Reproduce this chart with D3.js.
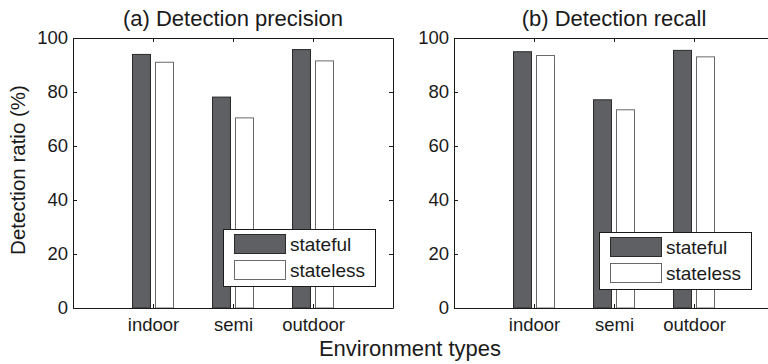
<!DOCTYPE html>
<html>
<head>
<meta charset="utf-8">
<script src="https://cdn.jsdelivr.net/npm/d3@7"></script>
<style>
  body { margin: 0; background: #fff; }
  svg { display: block; font-family: "Liberation Sans", Arial, sans-serif; }
</style>
</head>
<body>
<div id="chart"></div>
<script>
// Data
const categories = ['indoor', 'semi', 'outdoor'];
const series = ['stateful', 'stateless'];
const precisionStateful = [94.1, 78.3, 95.9];
const precisionStateless = [91.2, 70.6, 91.7];
const recallStateful = [95.1, 77.3, 95.6];
const recallStateless = [93.7, 73.6, 93.2];
const yTicks = [0, 20, 40, 60, 80, 100];

const panels = [
    {title: '(a) Detection precision', left: 73, legend: [223, 229],
     values: [precisionStateful, precisionStateless]},
    {title: '(b) Detection recall', left: 454, legend: [599, 232],
     values: [recallStateful, recallStateless]}
];

const colors = {stateful: '#5f6064', stateless: '#ffffff'};
const strokes = {stateful: '#2a2a2a', stateless: '#6a6a6a'};

const W = 768, H = 364;
const yTop = 38, yBottom = 308, plotW = 320;

const svg = d3.select('#chart').append('svg')
    .attr('width', W)
    .attr('height', H);

const y = d3.scaleLinear().domain([0, 100]).range([yBottom, yTop]);
const x = d3.scaleLinear().domain([0, 4]).range([0, plotW]);
// bars within a group
const inner = d3.scaleBand().domain(series).range([-21, 21]).paddingInner(4 / 23);

panels.forEach(p => {
    const g = svg.append('g').attr('transform', `translate(${p.left},0)`);

    // bars
    series.forEach((s, si) => {
        g.selectAll(`.bar-${s}`)
            .data(p.values[si])
            .enter()
            .append('rect')
            .attr('x', (d, i) => x(i + 1) + inner(s) + 0.5)
            .attr('y', d => y(d) + 0.5)
            .attr('width', inner.bandwidth() - 1)
            .attr('height', d => yBottom - y(d) - 0.5)
            .attr('fill', colors[s])
            .attr('stroke', strokes[s])
            .attr('stroke-width', 1);
    });

    // axes (ticks inward, box on)
    const yAxisL = d3.axisLeft(y).tickValues(yTicks).tickSizeInner(-4).tickSizeOuter(0).tickPadding(5);
    const yAxisR = d3.axisRight(y).tickValues(yTicks).tickSizeInner(-4).tickSizeOuter(0).tickFormat('');
    const xAxisB = d3.axisBottom(x).tickValues([1, 2, 3]).tickSizeInner(-4).tickSizeOuter(0)
        .tickPadding(10).tickFormat(d => categories[d - 1]);
    const xAxisT = d3.axisTop(x).tickValues([1, 2, 3]).tickSizeInner(-4).tickSizeOuter(0).tickFormat('');

    g.append('g').attr('class', 'axis').call(yAxisL);
    g.append('g').attr('class', 'axis').attr('transform', `translate(${plotW},0)`).call(yAxisR);
    g.append('g').attr('class', 'axis').attr('transform', `translate(0,${yBottom})`).call(xAxisB);
    g.append('g').attr('class', 'axis').attr('transform', `translate(0,${yTop})`).call(xAxisT);

    g.selectAll('.axis path, .axis line').attr('stroke', '#1a1a1a').attr('stroke-width', 1);
    g.selectAll('.axis text').attr('font-size', 18.5).attr('fill', '#1a1a1a')
        .attr('font-family', '"Liberation Sans", Arial, sans-serif');

    // title
    g.append('text')
        .attr('x', plotW / 2)
        .attr('y', 26)
        .attr('text-anchor', 'middle')
        .attr('font-size', 22)
        .attr('fill', '#1a1a1a')
        .text(p.title);

    // legend
    const lg = svg.append('g').attr('transform', `translate(${p.legend[0]},${p.legend[1]})`);
    lg.append('rect')
        .attr('x', 0.5).attr('y', 0.5)
        .attr('width', 152).attr('height', 57)
        .attr('fill', '#fff')
        .attr('stroke', '#1a1a1a');
    series.forEach((s, i) => {
        lg.append('rect')
            .attr('x', 11.5).attr('y', 5.5 + i * 26)
            .attr('width', 51).attr('height', 19)
            .attr('fill', colors[s])
            .attr('stroke', strokes[s]);
        lg.append('text')
            .attr('x', 67)
            .attr('y', 22 + i * 26)
            .attr('font-size', 19)
            .attr('fill', '#1a1a1a')
            .text(s);
    });
});

// shared axis labels
svg.append('text')
    .attr('transform', `translate(25,${(yTop + yBottom) / 2 - 3}) rotate(-90)`)
    .attr('text-anchor', 'middle')
    .attr('font-size', 20.5)
    .attr('fill', '#1a1a1a')
    .text('Detection ratio (%)');

svg.append('text')
    .attr('x', 410)
    .attr('y', 356)
    .attr('text-anchor', 'middle')
    .attr('font-size', 22)
    .attr('fill', '#1a1a1a')
    .text('Environment types');
</script>
</body>
</html>
